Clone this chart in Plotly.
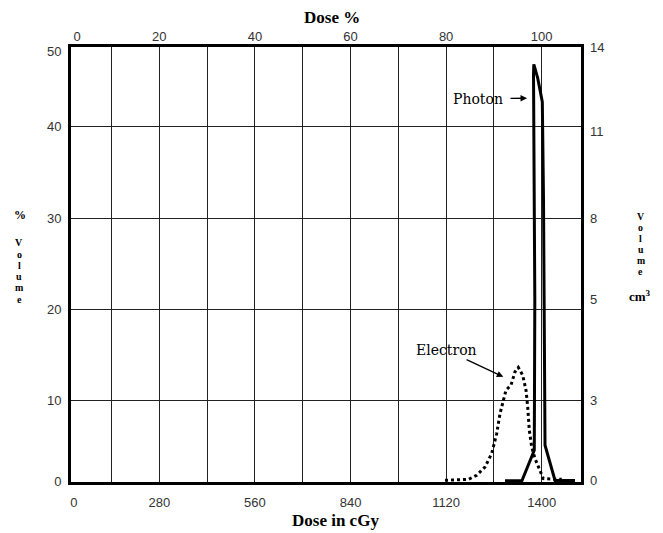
import plotly.graph_objects as go

# ---------------- data ----------------
photon_dose = [1292.5, 1342.3, 1378.3, 1379.8, 1376.0, 1376.9, 1388.3, 1401.8,
               1405.3, 1409.7, 1439.0, 1497.6]
photon_vol = [1.26, 1.30, 4.6, 21.0, 45.7, 46.8, 45.3, 42.7, 32.0, 5.15, 1.30, 1.30]

electron_dose = [1116.8, 1185.0, 1209.6, 1233.9, 1253.5, 1268.2, 1277.9, 1287.5,
                 1295.4, 1310.1, 1321.8, 1331.5, 1344.3, 1354.0, 1359.0, 1363.7,
                 1370.7, 1380.4, 1395.0, 1404.7, 1458.6]
electron_vol = [1.31, 1.42, 1.86, 2.77, 4.24, 6.43, 8.62, 10.08, 11.17, 11.72,
                13.18, 13.66, 12.81, 11.17, 9.34, 6.79, 4.96, 3.69, 2.41, 1.50, 1.42]

dose_tick_vals = [30, 280, 560, 840, 1120, 1400]
dose_tick_text = ["0", "280", "560", "840", "1120", "1400"]
pct_tick_vals = [2.8, 20, 40, 60, 80, 100]
pct_tick_text = ["0", "20", "40", "60", "80", "100"]
vol_tick_vals = [1.14, 10, 20, 30, 40, 48.2]
vol_tick_text = ["0", "10", "20", "30", "40", "50"]
cm3_tick_vals = [1.3, 10.1, 21.1, 30.0, 39.5, 48.6]
cm3_tick_text = ["0", "3", "5", "8", "11", "14"]
grid_dose = [140, 280, 420, 560, 700, 840, 980, 1120, 1260, 1400]
grid_vol = [10, 20, 30, 40]

dose_range = [21.3, 1515.1]
vol_range = [1.13, 48.7]

# ---------------- figure ----------------
fig = go.Figure()

fig.add_trace(go.Scatter(
    x=electron_dose, y=electron_vol, mode="lines",
    line=dict(color="black", width=3, dash="3px,3px"),
    showlegend=False, hoverinfo="skip"))

fig.add_trace(go.Scatter(
    x=photon_dose, y=photon_vol, mode="lines",
    line=dict(color="black", width=3),
    showlegend=False, hoverinfo="skip"))

# helper trace to activate the secondary (top / right) axes
fig.add_trace(go.Scatter(x=[None], y=[None], xaxis="x2", yaxis="y2",
                         showlegend=False, hoverinfo="skip"))

tick_font = dict(family="Liberation Sans Narrow, Liberation Sans, Arial", size=13, color="#333")

fig.update_layout(
    width=663, height=533,
    margin=dict(l=71, r=82, t=47, b=51),
    paper_bgcolor="white", plot_bgcolor="white",
    xaxis=dict(range=dose_range, tickvals=dose_tick_vals, ticktext=dose_tick_text,
               showgrid=False, zeroline=False, showline=True, linewidth=3,
               linecolor="black", mirror=True, ticks="", tickfont=tick_font,
               ticklabelstandoff=6,
               minor=dict(tickvals=grid_dose, showgrid=True, gridcolor="#222",
                          gridwidth=1, ticks="")),
    yaxis=dict(range=vol_range, tickvals=vol_tick_vals, ticktext=vol_tick_text,
               showgrid=False, zeroline=False, showline=True, linewidth=3,
               linecolor="black", mirror=True, ticks="", tickfont=tick_font,
               ticklabelstandoff=4,
               minor=dict(tickvals=grid_vol, showgrid=True, gridcolor="#222",
                          gridwidth=1, ticks="")),
    xaxis2=dict(overlaying="x", side="top", range=[dose_range[0] / 14, dose_range[1] / 14],
                tickvals=pct_tick_vals, ticktext=pct_tick_text, showgrid=False,
                zeroline=False, showline=False, ticks="", tickfont=tick_font,
                ticklabelstandoff=2),
    yaxis2=dict(overlaying="y", side="right", range=vol_range,
                tickvals=cm3_tick_vals, ticktext=cm3_tick_text, showgrid=False,
                zeroline=False, showline=False, ticks="", tickfont=tick_font,
                ticklabelstandoff=8),
)

serif = "Liberation Serif, Times New Roman, serif"
serif_bold = dict(family=serif, size=17, color="black")
label_font = dict(family="DejaVu Serif, serif", size=14, color="black")

ann = []
ann.append(dict(text="<b>Dose %</b>", x=0.5112, y=1.0675, xref="paper", yref="paper",
                showarrow=False, font=serif_bold, xanchor="center", yanchor="middle"))
ann.append(dict(text="<b>Dose in cGy</b>", x=0.5196, y=-0.0882, xref="paper", yref="paper",
                showarrow=False, font=serif_bold, xanchor="center", yanchor="middle"))

# left title: "% Volume" stacked letter by letter
ann.append(dict(text="<b>%</b>", x=(20 - 71) / 510, y=(481.7 - 215) / 434.4,
                xref="paper", yref="paper", showarrow=False,
                font=dict(family=serif, size=12, color="black"),
                xanchor="center", yanchor="middle"))
left_letters = ["V", "o", "l", "u", "m", "e"]
left_y = [243, 254.2, 265.4, 276.6, 287.8, 299]
for ch, py in zip(left_letters, left_y):
    ann.append(dict(text="<b>" + ch + "</b>", x=(19 - 71) / 510, y=(481.7 - py) / 434.4,
                    xref="paper", yref="paper", showarrow=False,
                    font=dict(family=serif, size=10, color="black"),
                    xanchor="center", yanchor="middle"))

# right title: "Volume cm3" stacked
right_letters = ["V", "o", "l", "u", "m", "e"]
right_y = [216.7, 227.6, 238.5, 249.4, 260.3, 271.2]
for ch, py in zip(right_letters, right_y):
    ann.append(dict(text="<b>" + ch + "</b>", x=(640.5 - 71) / 510, y=(481.7 - py) / 434.4,
                    xref="paper", yref="paper", showarrow=False,
                    font=dict(family=serif, size=9.8, color="black"),
                    xanchor="center", yanchor="middle"))
ann.append(dict(text="<b>cm<sup>3</sup></b>", x=(640 - 71) / 510, y=(481.7 - 296) / 434.4,
                xref="paper", yref="paper", showarrow=False,
                font=dict(family=serif, size=13, color="black"),
                xanchor="center", yanchor="middle"))

# curve labels with arrows (text sits at the arrow tail)
ann.append(dict(text="Photon", x=1357, y=43.1, ax=1213.4, ay=43.05, xref="x", yref="y",
                axref="x", ayref="y", showarrow=True, arrowhead=2, arrowsize=1,
                arrowwidth=1.3, arrowcolor="black", borderpad=7, font=label_font))
ann.append(dict(text="Electron", x=1287.5, y=12.63, ax=1120.6, ay=15.55, xref="x", yref="y",
                axref="x", ayref="y", showarrow=True, arrowhead=2, arrowsize=1,
                arrowwidth=1.3, arrowcolor="black", borderpad=1, font=label_font))

fig.update_layout(annotations=ann)

fig.write_html("out.html")
